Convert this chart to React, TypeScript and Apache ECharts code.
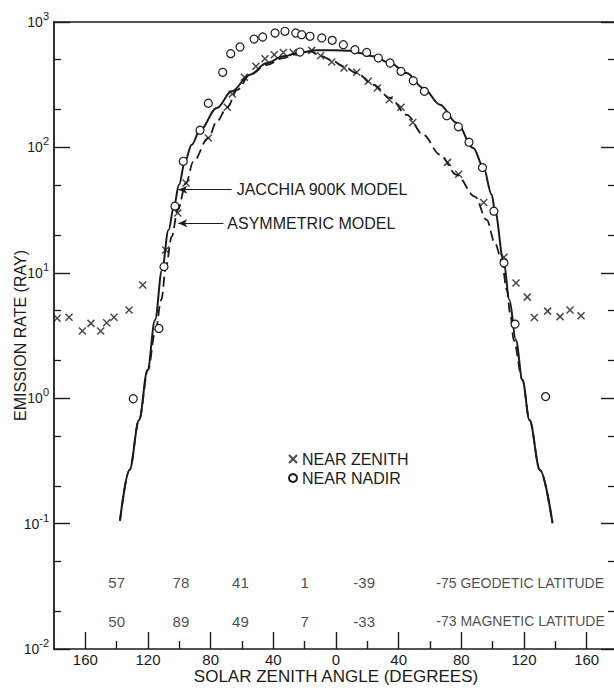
import { useEffect, useRef } from 'react';
import * as echarts from 'echarts';

// ---- data ----
const jacchiaAngles = [-137.9, -131.8, -125.7, -120.3, -115.5, -111.1, -106.9, -103.4, -100.2, -96.4, -92.1, -86.8, -76.1, -66.6, -54.9, -44.2, -33.6, -23, -12.3, -1.7, 8.9, 13.2, 23.8, 34.5, 45.1, 55.7, 66.4, 77, 87.6, 94, 99.4, 101.5, 106.9, 110.7, 114.8, 119, 123.5, 130.2, 138.2];
const jacchiaValues = [0.105, 0.267, 0.67, 1.68, 4.2, 10.5, 21.9, 34.1, 50.4, 77.5, 105, 137, 206, 280, 380, 471, 532, 572, 594, 594, 590, 572, 532, 471, 392, 298, 219, 157, 99, 70, 42, 31, 12.6, 6.07, 2.91, 1.4, 0.67, 0.267, 0.101];

const asymAngles = [-137.9, -131.8, -125.7, -120, -115.2, -111.5, -108.5, -104.9, -101, -95.7, -91.1, -81.5, -76.1, -69.4, -63, -54.9, -44.2, -33.6, -23, -16.6, -9.8, -2.7, 4.7, 13.2, 23.8, 34.5, 45.1, 55.7, 66.4, 77, 88.7, 96.2, 101.5, 105.8, 109, 111.5, 113.4, 119, 123.5, 130.2, 138.2];
const asymValues = [0.105, 0.267, 0.67, 1.68, 3.5, 6.1, 11.2, 19.4, 31.7, 52, 77, 119, 161, 209, 288, 380, 456, 516, 566, 584, 538, 495, 443, 392, 316, 248, 182, 126, 87.5, 60.5, 40.5, 26.4, 17.2, 12.6, 7.3, 4.47, 2.91, 1.4, 0.67, 0.267, 0.101];

const zenithAngles = [-178, -170.4, -161.9, -156.4, -150.2, -146.4, -141.7, -132.1, -123.4, -108.7, -101, -95.7, -81.5, -69.4, -66.2, -58.5, -51.1, -45.3, -39.4, -33.6, -27.3, -15.5, -9.8, -2.7, 5.1, 13.2, 20.6, 26.4, 34, 41.5, 49, 71.2, 78.3, 94.3, 107.2, 114.9, 122.1, 126.6, 135.1, 143, 149.4, 156.4];
const zenithValues = [4.34, 4.42, 3.43, 3.95, 3.43, 4.0, 4.42, 5.05, 8.0, 15.2, 30, 52, 119, 209, 267, 362, 443, 509, 548, 572, 572, 594, 538, 480, 430, 397, 337, 298, 240, 209, 158, 76, 61, 36.4, 13.3, 8.3, 6.4, 4.4, 4.95, 4.47, 5.05, 4.55];

const nadirAngles = [-129.4, -113, -109.8, -102.8, -97.5, -86.8, -81.5, -72.3, -67.2, -61.3, -52.3, -46.8, -38.9, -32.6, -25.7, -23, -21.9, -16.6, -9.1, -2.4, 4.7, 12.1, 19.6, 27, 34.5, 41.5, 49.3, 56.4, 70.7, 78.1, 84.9, 93.5, 100.8, 107.2, 114.3, 133.8];
const nadirValues = [0.99, 3.6, 11.2, 34, 77.5, 137, 225, 397, 559, 632, 731, 759, 817, 843, 817, 576, 792, 769, 746, 714, 659, 601, 572, 516, 471, 404, 340, 280, 179, 146, 110, 69, 31, 12, 3.9, 1.03];

const latitudeAngles = [-140, -99, -61, -20, 18, 64];
const geodeticLatitudes = ['57', '78', '41', '1', '-39', '-75'];
const magneticLatitudes = ['50', '89', '49', '7', '-33', '-73'];

const xMajorTicks = [-160, -120, -80, -40, 0, 40, 80, 120, 160];
const xMinorTicks = [-140, -100, -60, -20, 20, 60, 100, 140];
const yMajorTicks = [0.01, 0.1, 1, 10, 100, 1000];
const yMinorTicks = [0.02, 0.05, 0.2, 0.5, 2, 5, 20, 50, 200, 500];

const jacchiaLeader = [[-100.7, 46], [-66.6, 46]];
const asymLeader = [[-100.7, 24.8], [-71.9, 24.8]];

const INK = '#1b1b1b';
const FONT = "'Liberation Sans', Arial, Helvetica, sans-serif";
const GEO_ROW = 0.0336;
const MAG_ROW = 0.0167;

const pairs = (xs: number[], ys: number[]) => xs.map((x, i) => [x, ys[i]]);

export default function App() {
  const ref = useRef<HTMLDivElement>(null);

  useEffect(() => {
    if (!ref.current) return;
    const chart = echarts.init(ref.current, null, { renderer: 'svg' });

    const xBase = { type: 'value', min: -180, max: 180, splitLine: { show: false } };
    const yBase = { type: 'log', logBase: 10, min: 0.01, max: 1000, splitLine: { show: false } };
    const line = { color: INK, width: 1.6 };
    const gridBox = { left: 54, right: -4, top: 22, bottom: 41, outerBoundsMode: 'none', containLabel: false };

    const latLabels = (row: number, names: string[], suffix: string) =>
      latitudeAngles.map((a, i) => {
        const last = i === latitudeAngles.length - 1;
        return {
          value: [a, row],
          name: last ? `${names[i]} ${suffix}` : names[i],
          label: last
            ? { position: 'right', distance: 0, fontSize: 14 }
            : { position: 'inside' },
        };
      });

    const option: any = {
      animation: false,
      backgroundColor: '#ffffff',
      textStyle: { fontFamily: FONT, color: INK },
      grid: [gridBox, { ...gridBox }],
      legend: {
        orient: 'vertical',
        left: 288,
        top: 451,
        padding: 0,
        itemGap: 3,
        itemWidth: 8,
        itemHeight: 8,
        selectedMode: false,
        data: ['NEAR ZENITH', 'NEAR NADIR'],
        textStyle: { fontSize: 16, color: INK, fontFamily: FONT, lineHeight: 16 },
      },
      xAxis: [
        {
          ...xBase,
          gridIndex: 0,
          position: 'bottom',
          axisLine: { show: true, onZero: false, lineStyle: line },
          axisTick: { show: true, inside: true, length: 17, customValues: xMajorTicks, lineStyle: { color: INK, width: 1.4 } },
          axisLabel: {
            show: true,
            customValues: xMajorTicks,
            formatter: (v: number) => String(Math.abs(v)),
            fontSize: 15,
            color: INK,
            fontFamily: FONT,
            margin: 3,
          },
          name: 'SOLAR ZENITH ANGLE (DEGREES)',
          nameLocation: 'middle',
          nameGap: 19,
          nameMoveOverlap: false,
          nameTextStyle: { fontSize: 17, color: INK, fontFamily: FONT, verticalAlign: 'top' },
        },
        {
          ...xBase,
          gridIndex: 0,
          position: 'top',
          axisLine: { show: true, onZero: false, lineStyle: line },
          axisTick: { show: false },
          axisLabel: { show: false },
        },
        {
          ...xBase,
          gridIndex: 1,
          position: 'bottom',
          axisLine: { show: false, onZero: false },
          axisTick: { show: true, inside: true, length: 8, customValues: xMinorTicks, lineStyle: { color: INK, width: 1.4 } },
          axisLabel: { show: false },
        },
      ],
      yAxis: [
        {
          ...yBase,
          gridIndex: 0,
          position: 'left',
          axisLine: { show: true, onZero: false, lineStyle: { color: INK, width: 1.8 } },
          axisTick: { show: true, inside: true, length: 16, customValues: yMajorTicks, lineStyle: { color: INK, width: 1.4 } },
          axisLabel: {
            show: true,
            customValues: yMajorTicks,
            margin: 5,
            formatter: (v: number) => `{b|10}{s|${Math.round(Math.log10(v))}}`,
            rich: {
              b: { fontSize: 14, color: INK, fontFamily: FONT },
              s: { fontSize: 11, color: INK, fontFamily: FONT, padding: [0, 0, 12, 0] },
            },
          },
          name: 'EMISSION RATE (RAY)',
          nameLocation: 'middle',
          nameRotate: 90,
          nameGap: 26,
          nameMoveOverlap: false,
          nameTextStyle: { fontSize: 16, color: INK, fontFamily: FONT },
        },
        {
          ...yBase,
          gridIndex: 0,
          position: 'right',
          axisLine: { show: true, onZero: false, lineStyle: line },
          axisTick: { show: true, inside: true, length: 17, customValues: yMajorTicks, lineStyle: { color: INK, width: 1.4 } },
          axisLabel: { show: false },
        },
        {
          ...yBase,
          gridIndex: 1,
          position: 'left',
          axisLine: { show: false, onZero: false },
          axisTick: { show: true, inside: true, length: 7, customValues: yMinorTicks, lineStyle: { color: INK, width: 1.3 } },
          axisLabel: { show: false },
        },
        {
          ...yBase,
          gridIndex: 1,
          position: 'right',
          axisLine: { show: false, onZero: false },
          axisTick: { show: true, inside: true, length: 10, customValues: yMinorTicks, lineStyle: { color: INK, width: 1.3 } },
          axisLabel: { show: false },
        },
      ],
      series: [
        {
          name: 'JACCHIA 900K MODEL',
          type: 'line',
          xAxisIndex: 0,
          yAxisIndex: 0,
          data: pairs(jacchiaAngles, jacchiaValues),
          showSymbol: false,
          symbol: 'none',
          smooth: 0.35,
          smoothMonotone: 'x',
          lineStyle: { color: INK, width: 2 },
          z: 2,
          silent: true,
          markLine: {
            silent: true,
            symbol: ['arrow', 'none'],
            symbolSize: [6, 9],
            lineStyle: { type: 'solid', color: INK, width: 1.2 },
            label: { show: true, position: 'end', distance: 5, formatter: 'JACCHIA 900K MODEL', color: INK, fontSize: 16, fontFamily: FONT },
            data: [[{ coord: jacchiaLeader[0] }, { coord: jacchiaLeader[1] }]],
          },
        },
        {
          name: 'ASYMMETRIC MODEL',
          type: 'line',
          xAxisIndex: 0,
          yAxisIndex: 0,
          data: pairs(asymAngles, asymValues),
          showSymbol: false,
          symbol: 'none',
          smooth: 0.35,
          smoothMonotone: 'x',
          lineStyle: { color: INK, width: 1.8, type: [10, 5] },
          z: 2,
          silent: true,
          markLine: {
            silent: true,
            symbol: ['arrow', 'none'],
            symbolSize: [6, 9],
            lineStyle: { type: 'solid', color: INK, width: 1.2 },
            label: { show: true, position: 'end', distance: 4, formatter: 'ASYMMETRIC MODEL', color: INK, fontSize: 16, fontFamily: FONT },
            data: [[{ coord: asymLeader[0] }, { coord: asymLeader[1] }]],
          },
        },
        {
          name: 'NEAR ZENITH',
          type: 'scatter',
          xAxisIndex: 0,
          yAxisIndex: 0,
          data: pairs(zenithAngles, zenithValues),
          symbol: 'path://M0,0L10,10M10,0L0,10',
          symbolSize: 7,
          itemStyle: { color: 'rgba(0,0,0,0)', borderColor: INK, borderWidth: 1.5 },
          z: 3,
          silent: true,
        },
        {
          name: 'NEAR NADIR',
          type: 'scatter',
          xAxisIndex: 0,
          yAxisIndex: 0,
          data: pairs(nadirAngles, nadirValues),
          symbol: 'circle',
          symbolSize: 8,
          itemStyle: { color: '#ffffff', borderColor: INK, borderWidth: 1.2, opacity: 1 },
          z: 3,
          silent: true,
        },
        {
          name: 'GEODETIC LATITUDE',
          type: 'scatter',
          xAxisIndex: 0,
          yAxisIndex: 0,
          symbolSize: 0,
          silent: true,
          data: latLabels(GEO_ROW, geodeticLatitudes, 'GEODETIC LATITUDE'),
          label: { show: true, formatter: '{b}', color: INK, fontSize: 15, fontFamily: FONT },
        },
        {
          name: 'MAGNETIC LATITUDE',
          type: 'scatter',
          xAxisIndex: 0,
          yAxisIndex: 0,
          symbolSize: 0,
          silent: true,
          data: latLabels(MAG_ROW, magneticLatitudes, 'MAGNETIC LATITUDE'),
          label: { show: true, formatter: '{b}', color: INK, fontSize: 15, fontFamily: FONT },
        },
      ],
    };

    chart.setOption(option);
    return () => chart.dispose();
  }, []);

  return <div ref={ref} style={{ width: 614, height: 690, position: 'absolute', left: 0, top: 0 }} />;
}
